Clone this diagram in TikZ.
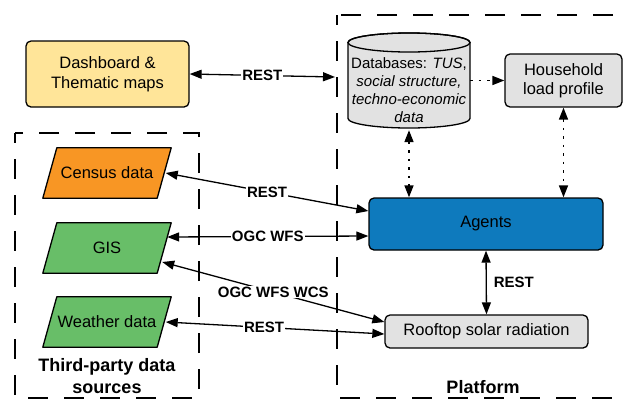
\documentclass[tikz,border=0pt]{standalone}
\usepackage{fontspec}
\setmainfont{Liberation Sans}
\usetikzlibrary{arrows.meta,calc,backgrounds}
\definecolor{dashyellow}{RGB}{255,229,153}
\definecolor{censusorange}{RGB}{248,150,36}
\definecolor{gisgreen}{RGB}{104,190,104}
\definecolor{agentblue}{RGB}{14,122,189}
\definecolor{boxgray}{RGB}{226,226,226}
\begin{document}
\begin{tikzpicture}[x=1pt,y=-1pt,
  box/.style={draw, line width=1.3pt, rounded corners=5pt, inner sep=0pt, align=center,
    font=\fontsize{16.5}{19.5}\selectfont},
  para/.style={minimum width=114pt, minimum height=50pt, inner sep=0pt,
    font=\fontsize{16.5}{19.5}\selectfont},
  parashape/.style={line width=1.3pt, line join=round},
  conn/.style={line width=1.3pt, {Triangle[length=12pt,width=9pt]}-{Triangle[length=12pt,width=9pt]}},
  lab/.style={fill=white, inner sep=1pt, font=\bfseries\fontsize{15}{17}\selectfont},
  frame/.style={line width=2.2pt, dash pattern=on 20pt off 16pt, dash phase=10pt},
  dots/.style={line width=1.6pt, dash pattern=on 2.5pt off 6pt},
  title/.style={align=center, font=\bfseries\fontsize{18}{22}\selectfont}]
\useasboundingbox (0,0) rectangle (625,400);
\clip (0,0) rectangle (625,400);

% frames
\draw[frame] (15,133) rectangle (199,398);
\draw[frame] (337,15) rectangle (645,398);
\node[title] (tptitle) at (107,376) {Third-party data\\sources};
\node[title] (pftitle) at (483,387) {Platform};

% database cylinder
\filldraw[fill=boxgray, line width=1.3pt] (348,42.5) -- (348,118.5)
  arc[start angle=180, end angle=0, x radius=61, y radius=9.5] -- (470,42.5)
  arc[start angle=0, end angle=-180, x radius=61, y radius=9.5] -- cycle;
\draw[line width=1.3pt] (409,42.5) ellipse[x radius=61, y radius=9.5];
\node[minimum width=122pt, minimum height=95pt, inner sep=0pt] (db) at (409,80.5) {};
\node[align=center, inner sep=0pt, font=\fontsize{15}{18}\selectfont] (dbtext) at (409,90)
  {Databases: \textit{TUS},\\ \textit{social structure,}\\ \textit{techno-economic}\\ \textit{data}};

% nodes
\node[box, fill=dashyellow, minimum width=163pt, minimum height=66pt] (dash) at (107.5,74) {Dashboard \&\\Thematic maps};
\node[box, fill=boxgray, minimum width=117pt, minimum height=53pt] (house) at (563.5,80.5) {Household\\load profile};
\node[box, fill=agentblue, minimum width=234pt, minimum height=52pt] (agents) at (486,224) {Agents};
\node[box, fill=boxgray, minimum width=203pt, minimum height=33pt] (roof) at (486.5,331.5) {Rooftop solar radiation};
\node[para] (census) at (107,173) {Census data};
\node[para] (gis) at (107,248) {GIS};
\node[para] (weather) at (107,322) {Weather data};

% parallelogram outlines behind the data-source nodes
\begin{scope}[on background layer]
\foreach \n/\c in {census/censusorange, gis/gisgreen, weather/gisgreen}{
  \filldraw[parashape, fill=\c] ([xshift=7pt]\n.north west) -- ([xshift=7pt]\n.north east)
    -- ([xshift=-7pt]\n.south east) -- ([xshift=-7pt]\n.south west) -- cycle;
}
\end{scope}

\coordinate (pfin) at (335,77);

% connectors
\draw[conn] (dash.east) -- node[lab, pos=0.5] {REST} (pfin);
\draw[conn] ([xshift=1.5pt]census.east) -- node[lab, pos=0.5] {REST} ([yshift=13pt]agents.west);
\draw[conn] ([xshift=3pt,yshift=11pt]gis.east) -- node[lab, pos=0.5] {OGC WFS} ([yshift=-12pt]agents.west);
\draw[conn] ([xshift=-2pt,yshift=-14pt]gis.east) -- node[lab, pos=0.5] {OGC WFS WCS} ([yshift=9.5pt]roof.west);
\draw[conn] ([xshift=1.5pt]weather.east) -- node[lab, pos=0.45] {REST} ([yshift=-2.5pt]roof.west);
\draw[conn] (agents.south) -- node[lab, right=6pt, fill=none] {REST} (roof.north);
\draw[dots, -{Triangle[length=12pt,width=9pt]}] (db.east) -- (house.west);
\draw[dots, {Triangle[length=12pt,width=9pt]}-{Triangle[length=12pt,width=9pt]}] ([yshift=-2pt]db.south) -- (agents.north -| db.south);
\draw[dots, {Triangle[length=12pt,width=9pt]}-{Triangle[length=12pt,width=9pt]}] (house.south) -- (agents.north -| house.south);
\end{tikzpicture}
\end{document}
